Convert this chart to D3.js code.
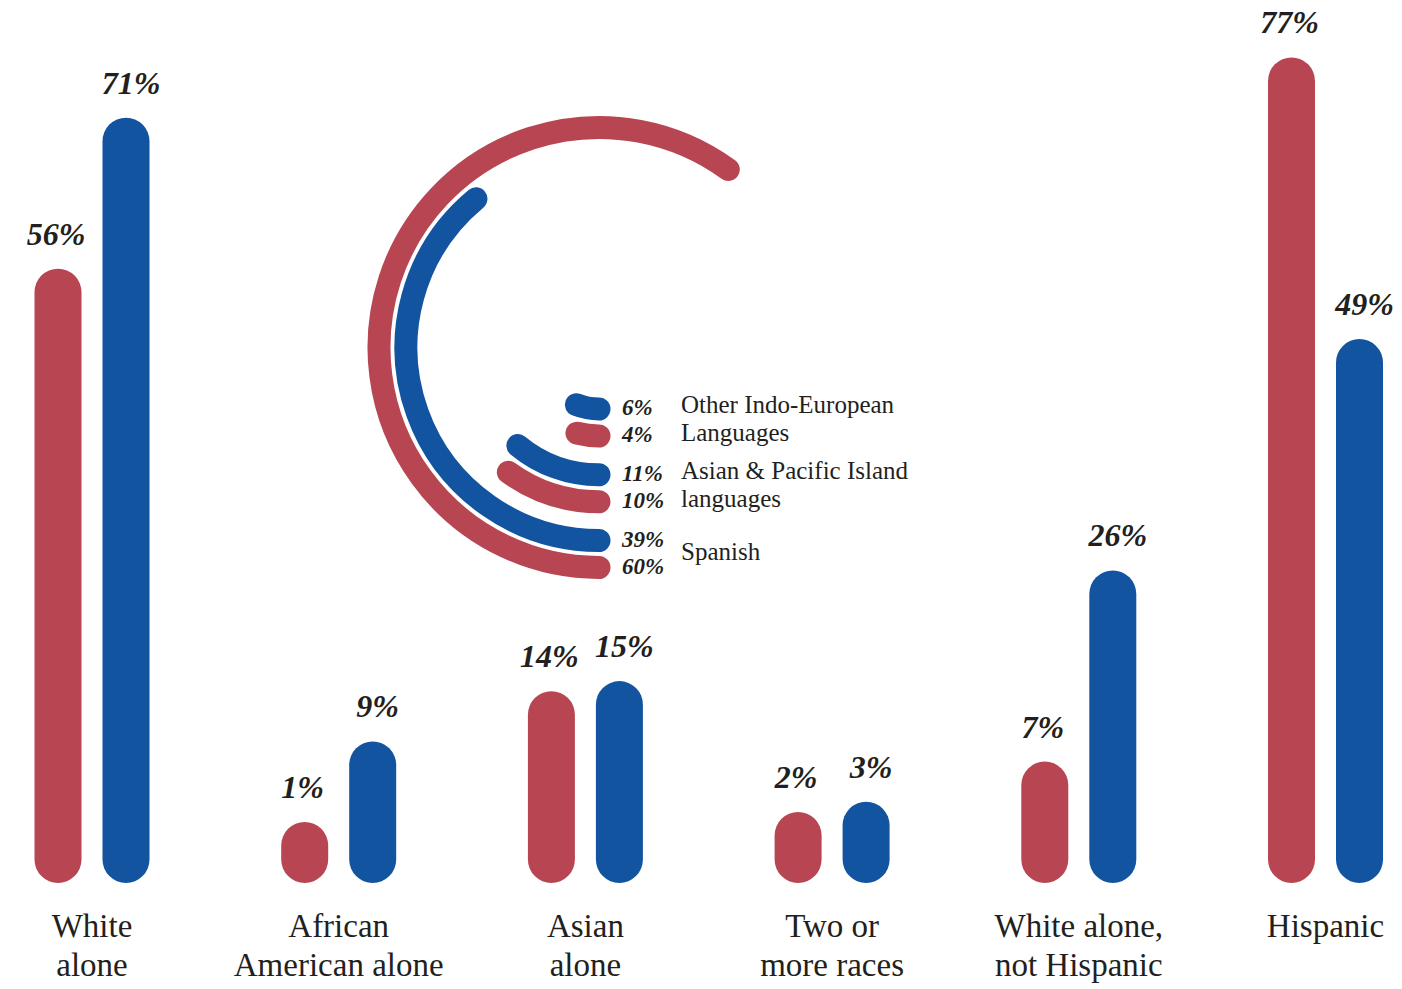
<!DOCTYPE html>
<html>
<head>
<meta charset="utf-8">
<script src="https://cdn.jsdelivr.net/npm/d3@7"></script>
<style>
  body { margin: 0; background: #ffffff; }
  svg { display: block; }
  text { fill: #231f20; font-family: "Liberation Serif", "DejaVu Serif", serif; }
</style>
</head>
<body>
<svg id="chart" width="1402" height="989"></svg>
<script>
// Population groups (bar pairs): red = share A, blue = share B
const categories = [
  ["White", "alone"],
  ["African", "American alone"],
  ["Asian", "alone"],
  ["Two or", "more races"],
  ["White alone,", "not Hispanic"],
  ["Hispanic"]
];
const shareA = [56, 1, 14, 2, 7, 77];
const shareB = [71, 9, 15, 3, 26, 49];

// Languages spoken at home (concentric arcs)
const languages = [
  ["Spanish"],
  ["Asian & Pacific Island", "languages"],
  ["Other Indo-European", "Languages"]
];
const langA = [60, 10, 4];
const langB = [39, 11, 6];

const RED = "#b84652";
const BLUE = "#1254a0";

const svg = d3.select("#chart");

// ---------- bars ----------
const barW = 47;
const base = 883;
const x = d3.scalePoint().domain(d3.range(categories.length)).range([92, 1325.5]);
const y = d3.scaleLinear().domain([0, 80]).range([832, 27.2]);
const pairOffset = 34;

const series = [
  { values: shareA, color: RED, dx: -pairOffset, labelDx: -2 },
  { values: shareB, color: BLUE, dx: pairOffset, labelDx: 5 }
];

series.forEach(s => {
  const g = svg.append("g");
  g.selectAll("rect")
    .data(s.values)
    .join("rect")
    .attr("x", (d, i) => x(i) + s.dx - barW / 2)
    .attr("y", d => y(d))
    .attr("width", barW)
    .attr("height", d => base - y(d))
    .attr("rx", barW / 2)
    .attr("fill", s.color);

  g.selectAll("text")
    .data(s.values)
    .join("text")
    .attr("x", (d, i) => x(i) + s.dx + s.labelDx)
    .attr("y", d => y(d) - 24)
    .attr("text-anchor", "middle")
    .style("font-size", "32px")
    .style("font-style", "italic")
    .style("font-weight", "bold")
    .text(d => d + "%");
});

// category labels
const catG = svg.append("g");
categories.forEach((lines, i) => {
  const t = catG.append("text")
    .attr("text-anchor", "middle")
    .style("font-size", "33px");
  lines.forEach((ln, j) => {
    t.append("tspan")
      .attr("x", x(i))
      .attr("y", 937 + j * 39)
      .text(ln);
  });
});

// ---------- concentric language arcs ----------
const cx = 599, cy = 347.5;
const arcW = 23;
const ring = d3.scaleLinear().domain([0, languages.length - 1]).range([220, 88.5]);
const pairGap = 27;
const angle = d3.scaleLinear().domain([0, 100]).range([0, 2 * Math.PI]);

function arcPath(r, v) {
  const p = d3.path();
  // start at the bottom of the circle and sweep clockwise (left, then up)
  p.arc(cx, cy, r, Math.PI / 2, Math.PI / 2 + angle(v));
  return p.toString();
}

const arcRows = [];
languages.forEach((lines, i) => {
  arcRows.push({ r: ring(i), v: langA[i], color: RED });
  arcRows.push({ r: ring(i) - pairGap, v: langB[i], color: BLUE });
});

const arcG = svg.append("g");
arcG.selectAll("path")
  .data(arcRows)
  .join("path")
  .attr("d", d => arcPath(d.r, d.v))
  .attr("fill", "none")
  .attr("stroke", d => d.color)
  .attr("stroke-width", arcW)
  .attr("stroke-linecap", "round");

arcG.selectAll("text.pct")
  .data(arcRows)
  .join("text")
  .attr("class", "pct")
  .attr("x", 622)
  .attr("y", d => cy + d.r + 6)
  .style("font-size", "23px")
  .style("font-style", "italic")
  .style("font-weight", "bold")
  .text(d => d.v + "%");

// language names
languages.forEach((lines, i) => {
  const yB = cy + ring(i) - pairGap + 4;
  const yA = cy + ring(i) + 5;
  const t = arcG.append("text").style("font-size", "25px");
  if (lines.length === 1) {
    t.append("tspan").attr("x", 681).attr("y", (yA + yB) / 2 + 1).text(lines[0]);
  } else {
    t.append("tspan").attr("x", 681).attr("y", yB).text(lines[0]);
    t.append("tspan").attr("x", 681).attr("y", yA).text(lines[1]);
  }
});
</script>
</body>
</html>
